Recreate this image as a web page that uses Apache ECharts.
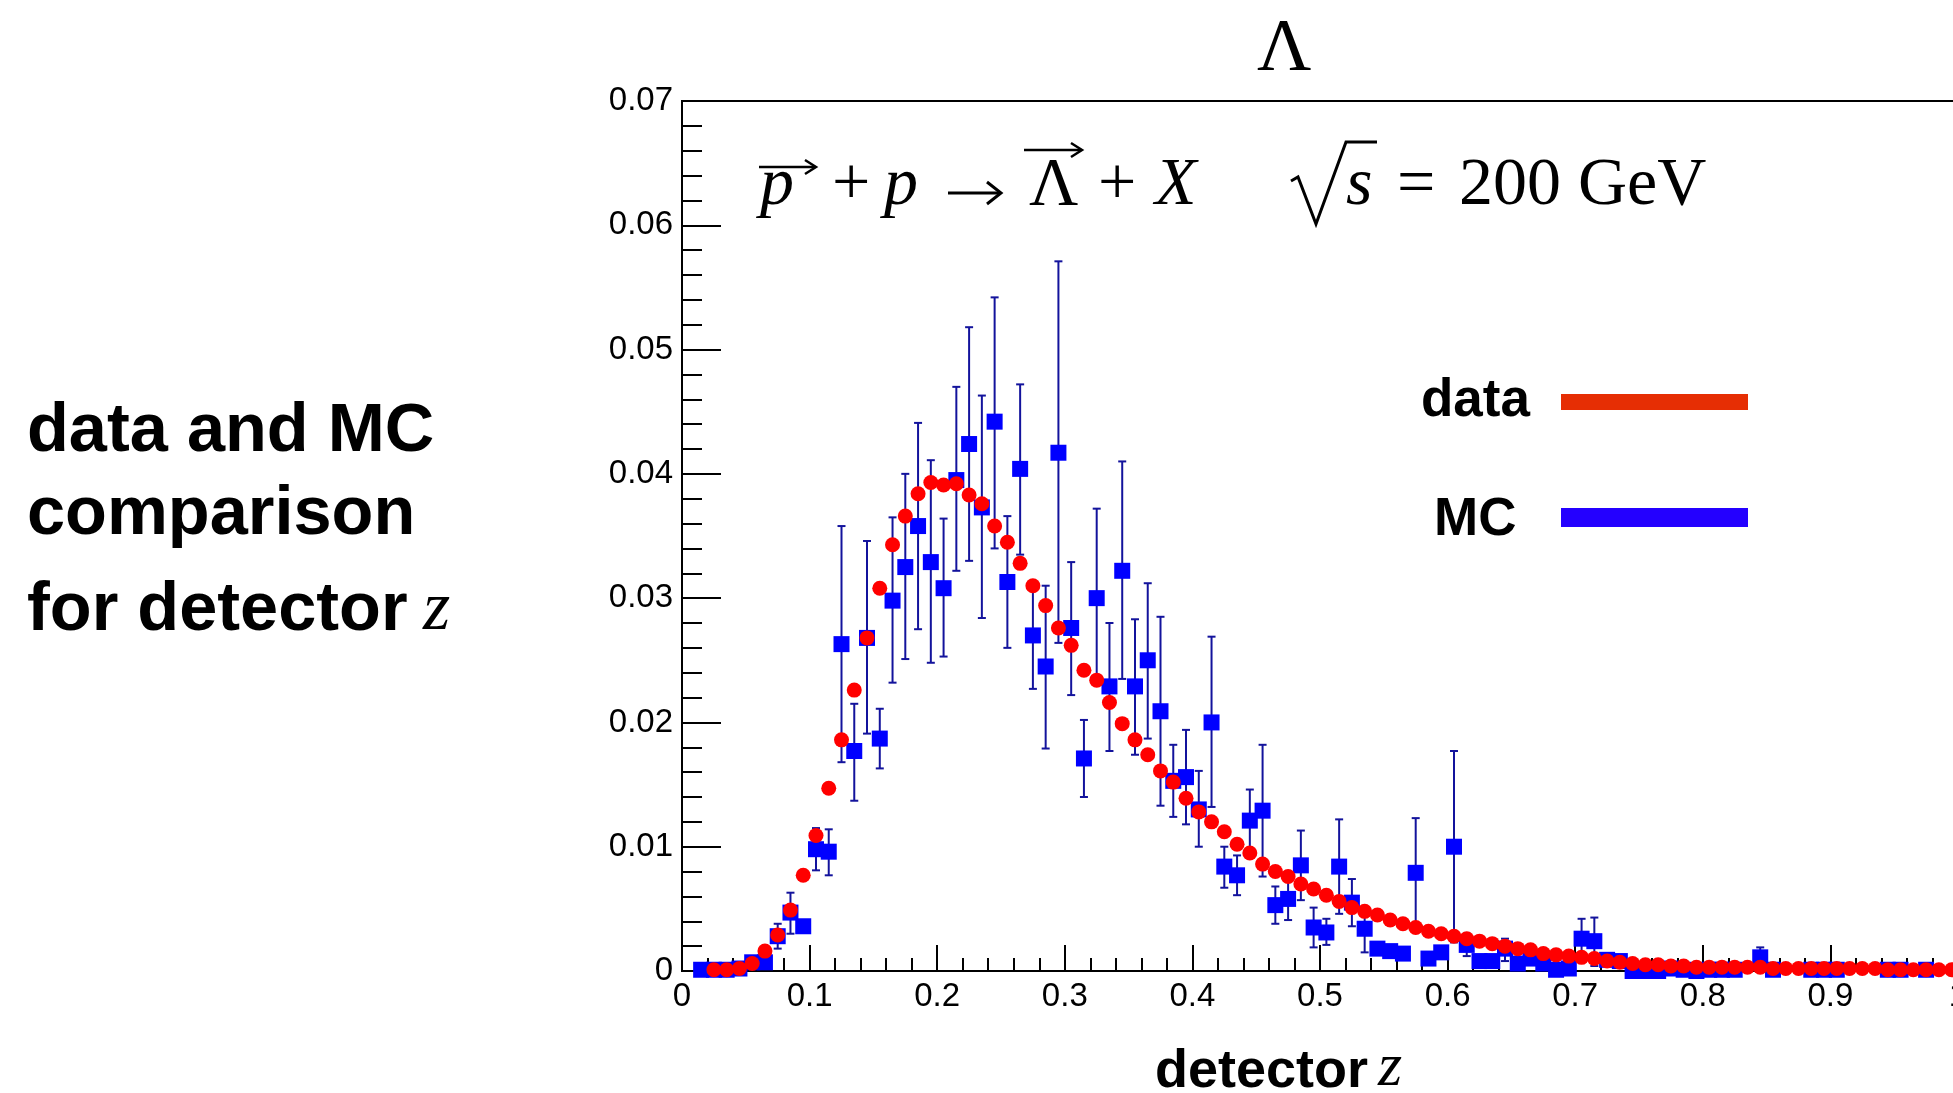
<!DOCTYPE html>
<html>
<head>
<meta charset="utf-8">
<script src="https://cdn.jsdelivr.net/npm/echarts@6/dist/echarts.min.js"></script>
<style>
html,body{margin:0;padding:0;background:#fff;}
#chart{width:1953px;height:1093px;}
</style>
</head>
<body>
<div id="chart"></div>
<script>
// bin centres (detector z)
const binCenters = [
  0.015,0.025,0.035,0.045,0.055,0.065,0.075,0.085,0.095,0.105,
  0.115,0.125,0.135,0.145,0.155,0.165,0.175,0.185,0.195,0.205,
  0.215,0.225,0.235,0.245,0.255,0.265,0.275,0.285,0.295,0.305,
  0.315,0.325,0.335,0.345,0.355,0.365,0.375,0.385,0.395,0.405,
  0.415,0.425,0.435,0.445,0.455,0.465,0.475,0.485,0.495,0.505,
  0.515,0.525,0.535,0.545,0.555,0.565,0.575,0.585,0.595,0.605,
  0.615,0.625,0.635,0.645,0.655,0.665,0.675,0.685,0.695,0.705,
  0.715,0.725,0.735,0.745,0.755,0.765,0.775,0.785,0.795,0.805,
  0.815,0.825,0.835,0.845,0.855,0.865,0.875,0.885,0.895,0.905,
  0.915,0.925,0.935,0.945,0.955,0.965,0.975,0.985,0.995
];
// data (red circles)
const dataValues = [
  null,0.0001,0.0001,0.0002,0.0006,0.0016,0.0029,0.0049,0.0077,0.0109,
  0.0147,0.0186,0.0226,0.0268,0.0308,0.0343,0.0366,0.0384,0.0393,0.0391,
  0.0392,0.0383,0.0376,0.0358,0.0345,0.0328,0.0310,0.0294,0.0276,0.0262,
  0.0242,0.0234,0.0216,0.0199,0.0186,0.0174,0.0161,0.0152,0.0139,0.0128,
  0.0120,0.0112,0.0102,0.0095,0.0086,0.0080,0.0076,0.0070,0.0066,0.0061,
  0.0056,0.0051,0.0048,0.0045,0.0041,0.0038,0.0035,0.0032,0.0030,0.0028,
  0.0026,0.0024,0.0022,0.0020,0.0018,0.0017,0.0014,0.0013,0.0012,0.0011,
  0.0010,0.0008,0.0007,0.0006,0.0005,0.0005,0.0004,0.0004,0.0003,0.0003,
  0.0003,0.0003,0.0003,0.0003,0.0002,0.0002,0.0002,0.0002,0.0002,0.0002,
  0.0002,0.0002,0.0002,0.0001,0.0001,0.0001,0.0001,0.0001,0.0001
];
// MC (blue squares)
const mcValues = [
  0.0001,0.0001,0.0001,0.0002,0.0007,0.0007,0.0028,0.0047,0.0036,0.0098,
  0.0096,0.0263,0.0177,0.0268,0.0187,0.0298,0.0325,0.0358,0.0329,0.0308,
  0.0395,0.0424,0.0373,0.0442,0.0313,0.0404,0.0270,0.0245,0.0417,0.0276,
  0.0171,0.0300,0.0229,0.0322,0.0229,0.0250,0.0209,0.0153,0.0156,0.0130,
  0.0200,0.0084,0.0077,0.0121,0.0129,0.0053,0.0058,0.0085,0.0035,0.0031,
  0.0084,0.0055,0.0034,0.0018,0.0016,0.0014,0.0079,0.0010,0.0015,0.0100,
  0.0021,0.0008,0.0008,0.0018,0.0006,0.0010,0.0006,0.0001,0.0002,0.0026,
  0.0024,0.0009,0.0008,0.0000,0.0000,0.0000,0.0002,0.0001,0.0000,0.0001,
  0.0001,0.0001,null,0.0011,0.0001,null,null,0.0001,0.0001,0.0001,
  null,null,null,0.0001,0.0001,null,0.0001,null,null
];
// MC error bar ends
const mcErrLow = [
  null,null,null,null,null,null,0.0018,0.0030,null,0.0081,
  0.0077,0.0168,0.0137,0.0191,0.0163,0.0232,0.0251,0.0275,0.0248,0.0253,
  0.0322,0.0330,0.0284,0.0340,0.0260,0.0335,0.0227,0.0179,0.0264,0.0222,
  0.0140,0.0237,0.0177,0.0235,0.0174,0.0187,0.0133,0.0124,0.0118,0.0100,
  0.0132,0.0067,0.0061,0.0096,0.0076,0.0038,0.0041,0.0057,0.0019,0.0021,
  0.0046,0.0036,0.0015,null,null,null,0.0035,null,null,0.0023,
  0.0012,null,null,0.0008,null,null,null,null,null,0.0010,
  0.0004,null,null,null,null,null,null,null,null,null,
  null,null,null,0.0003,null,null,null,null,null,null,
  null,null,null,null,null,null,null,null,null
];
const mcErrHigh = [
  null,null,null,null,null,null,0.0038,0.0063,null,0.0115,
  0.0114,0.0358,0.0215,0.0346,0.0211,0.0365,0.0400,0.0441,0.0411,0.0364,
  0.0470,0.0518,0.0463,0.0542,0.0366,0.0472,0.0310,0.0310,0.0571,0.0329,
  0.0202,0.0372,0.0280,0.0410,0.0283,0.0312,0.0285,0.0182,0.0194,0.0161,
  0.0269,0.0100,0.0093,0.0146,0.0182,0.0068,0.0074,0.0113,0.0051,0.0042,
  0.0122,0.0074,0.0051,null,null,null,0.0123,null,null,0.0177,
  0.0030,null,null,0.0026,null,null,null,null,null,0.0042,
  0.0043,null,null,null,null,null,null,null,null,null,
  null,null,null,0.0019,null,null,null,null,null,null,
  null,null,null,null,null,null,null,null,null
];
const xTicks = ['0','0.1','0.2','0.3','0.4','0.5','0.6','0.7','0.8','0.9','1'];
const yTicks = ['0','0.01','0.02','0.03','0.04','0.05','0.06','0.07'];

const dataPts = [], mcPts = [], errPts = [];
binCenters.forEach((x, i) => {
  if (dataValues[i] !== null) dataPts.push([x, dataValues[i]]);
  if (mcValues[i] !== null) mcPts.push([x, mcValues[i]]);
  if (mcErrLow[i] !== null) errPts.push([x, mcErrLow[i], mcErrHigh[i]]);
});

const SANS = '"Liberation Sans", Arial, Helvetica, sans-serif';
const SERIF = '"Liberation Serif", "Times New Roman", serif';
function txt(text, x, baseline, size, font, extra) {
  const y = baseline - 0.34 * size;
  return {
    type: 'text', x: x, y: y, silent: true,
    style: Object.assign({
      text: text, font: font,
      fill: '#000',
      align: 'left', verticalAlign: 'middle',
      textAlign: 'left', textVerticalAlign: 'middle'
    }, extra || {})
  };
}

const chart = echarts.init(document.getElementById('chart'), null, {renderer: 'canvas'});
const ERR = '#13139c';

chart.setOption({
  animation: false,
  backgroundColor: '#fff',
  grid: {left: 682, top: 101, width: 1276, height: 870, show: true,
         containLabel: false, outerBoundsMode: 'none',
         borderColor: '#000', borderWidth: 2, backgroundColor: 'transparent'},
  xAxis: {
    type: 'value', min: 0, max: 1, interval: 0.1,
    axisLine: {show: true, onZero: false, lineStyle: {color: '#000', width: 2}},
    axisTick: {show: true, inside: true, length: 26, lineStyle: {color: '#000', width: 2}},
    minorTick: {show: true, splitNumber: 5, length: 13, lineStyle: {color: '#000', width: 2}},
    splitLine: {show: false},
    axisLabel: {
      margin: 9, color: '#000', fontSize: 33, fontFamily: SANS,
      formatter: v => xTicks[Math.round(v * 10)]
    }
  },
  yAxis: {
    type: 'value', min: 0, max: 0.07, interval: 0.01,
    axisLine: {show: true, onZero: false, lineStyle: {color: '#000', width: 2}},
    axisTick: {show: true, inside: true, length: 39, lineStyle: {color: '#000', width: 2}},
    minorTick: {show: true, splitNumber: 5, length: 20, lineStyle: {color: '#000', width: 2}},
    splitLine: {show: false},
    axisLabel: {
      margin: 9, color: '#000', fontSize: 33, fontFamily: SANS,
      formatter: v => yTicks[Math.round(v * 100)]
    }
  },
  series: [
    {
      type: 'custom', name: 'MC errors', clip: false, z: 2, silent: true,
      encode: {x: 0, y: [1, 2]},
      data: errPts,
      renderItem: function (params, api) {
        const x = api.value(0);
        const p1 = api.coord([x, api.value(1)]);
        const p2 = api.coord([x, api.value(2)]);
        const c = 4;
        const st = {stroke: ERR, lineWidth: 2};
        return {type: 'group', children: [
          {type: 'line', shape: {x1: p1[0], y1: p1[1], x2: p2[0], y2: p2[1]}, style: st},
          {type: 'line', shape: {x1: p1[0] - c, y1: p1[1], x2: p1[0] + c, y2: p1[1]}, style: st},
          {type: 'line', shape: {x1: p2[0] - c, y1: p2[1], x2: p2[0] + c, y2: p2[1]}, style: st}
        ]};
      }
    },
    {
      type: 'scatter', name: 'MC', data: mcPts, symbol: 'rect', symbolSize: 16,
      clip: false, z: 3, silent: true,
      itemStyle: {color: '#0000ff', opacity: 1}
    },
    {
      type: 'scatter', name: 'data', data: dataPts, symbol: 'circle', symbolSize: 15,
      clip: false, z: 4, silent: true,
      itemStyle: {color: '#ff0000', opacity: 1}
    }
  ],
  graphic: [
    // title
    txt('Λ', 1257, 76, 75, '75px ' + SERIF),
    // reaction formula
    txt('p', 760, 209, 68, 'italic 68px ' + SERIF),
    txt('+', 832, 209, 68, '68px ' + SERIF),
    txt('p', 884, 209, 68, 'italic 68px ' + SERIF),
    txt('Λ', 1029, 209, 68, '68px ' + SERIF),
    txt('+', 1098, 209, 68, '68px ' + SERIF),
    txt('X', 1155, 209, 68, 'italic 68px ' + SERIF),
    txt('s', 1346, 209, 68, 'italic 68px ' + SERIF),
    txt('=', 1397, 209, 68, '68px ' + SERIF),
    txt('200 GeV', 1459, 209, 68, '68px ' + SERIF),
    // reaction arrow
    {type: 'line', silent: true, shape: {x1: 948, y1: 193, x2: 999, y2: 193}, style: {stroke: '#000', lineWidth: 3}},
    {type: 'polyline', silent: true, shape: {points: [[987, 182], [1001, 193], [987, 204]]}, style: {stroke: '#000', lineWidth: 3, fill: null}},
    // vector arrows
    {type: 'line', silent: true, shape: {x1: 759, y1: 167, x2: 815, y2: 167}, style: {stroke: '#000', lineWidth: 2.5}},
    {type: 'polyline', silent: true, shape: {points: [[805, 160], [816, 167], [805, 174]]}, style: {stroke: '#000', lineWidth: 2.5, fill: null}},
    {type: 'line', silent: true, shape: {x1: 1024, y1: 150, x2: 1081, y2: 150}, style: {stroke: '#000', lineWidth: 2.5}},
    {type: 'polyline', silent: true, shape: {points: [[1071, 143], [1082, 150], [1071, 157]]}, style: {stroke: '#000', lineWidth: 2.5, fill: null}},
    // square root sign
    {type: 'polyline', silent: true, shape: {points: [[1291, 181], [1298, 177], [1316, 224], [1346, 142], [1377, 142]]},
     style: {stroke: '#000', lineWidth: 3, fill: null, lineJoin: 'miter'}},
    // left annotation
    txt('data and MC', 27, 455, 68.5, 'bold 68.5px ' + SANS),
    txt('comparison', 27, 538, 68.5, 'bold 68.5px ' + SANS),
    txt('for detector', 27, 634, 68.5, 'bold 68.5px ' + SANS),
    txt('z', 423, 634, 70, 'italic 70px ' + SERIF),
    // x axis title
    txt('detector', 1155, 1090, 54, 'bold 54px ' + SANS),
    txt('z', 1378, 1090, 62, 'italic 62px ' + SERIF),
    // legend
    txt('data', 1421, 419, 53, 'bold 53px ' + SANS),
    {type: 'rect', silent: true, shape: {x: 1561, y: 394, width: 187, height: 16}, style: {fill: '#e62e04'}},
    txt('MC', 1434, 538, 53, 'bold 53px ' + SANS),
    {type: 'rect', silent: true, shape: {x: 1561, y: 508, width: 187, height: 19}, style: {fill: '#2400ff'}}
  ]
});
</script>
</body>
</html>
